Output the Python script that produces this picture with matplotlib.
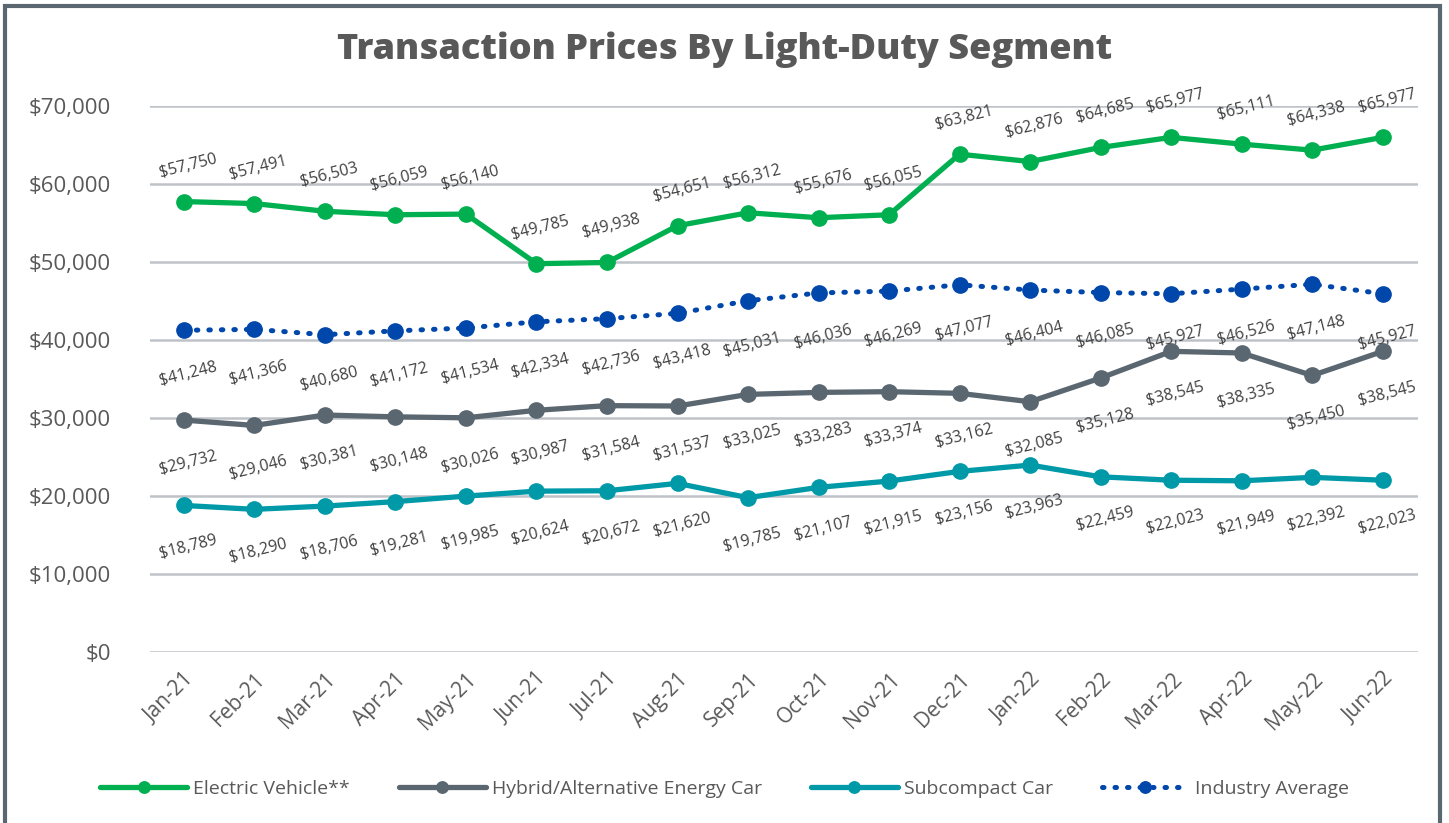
import matplotlib
matplotlib.use("Agg")
import matplotlib.pyplot as plt
from matplotlib.patches import Rectangle
import numpy as np

months = ["Jan-21", "Feb-21", "Mar-21", "Apr-21", "May-21", "Jun-21", "Jul-21", "Aug-21", "Sep-21",
          "Oct-21", "Nov-21", "Dec-21", "Jan-22", "Feb-22", "Mar-22", "Apr-22", "May-22", "Jun-22"]
ev = [57750, 57491, 56503, 56059, 56140, 49785, 49938, 54651, 56312,
      55676, 56055, 63821, 62876, 64685, 65977, 65111, 64338, 65977]
industry = [41248, 41366, 40680, 41172, 41534, 42334, 42736, 43418, 45031,
            46036, 46269, 47077, 46404, 46085, 45927, 46526, 47148, 45927]
hybrid = [29732, 29046, 30381, 30148, 30026, 30987, 31584, 31537, 33025,
          33283, 33374, 33162, 32085, 35128, 38545, 38335, 35450, 38545]
subcompact = [18789, 18290, 18706, 19281, 19985, 20624, 20672, 21620, 19785,
              21107, 21915, 23156, 23963, 22459, 22023, 21949, 22392, 22023]
yticks = [0, 10000, 20000, 30000, 40000, 50000, 60000, 70000]

W, H = 1449, 823
fig = plt.figure(figsize=(W / 100, H / 100), dpi=100)
plt.rcParams['font.family'] = ['Open Sans', 'DejaVu Sans']

ax = fig.add_axes([150 / W, 1 - 652 / H, (1418 - 150) / W, (652 - 106) / H])
x = np.arange(len(months))

txt = "#595959"
lbl = "#404040"
series = [
    ("Electric Vehicle**", ev, "#00B050", "-", 36, 1),
    ("Hybrid/Alternative Energy Car", hybrid, "#5B6770", "-", 43, -1),
    ("Subcompact Car", subcompact, "#0099A8", "-", 42, -1),
    ("Industry Average", industry, "#0047AB", ":", 44, -1),
]
for name, vals, col, ls, off, sgn in series:
    if ls == ":":
        ax.plot(x, vals, color=col, lw=3.6, ls=(0, (0.3, 2.2)), dash_capstyle='round',
                marker='o', ms=11, label=name, zorder=3)
    else:
        ax.plot(x, vals, color=col, lw=3.8, marker='o', ms=11, label=name,
                solid_capstyle='round', zorder=3)
    for xi, v in zip(x, vals):
        ax.annotate(f"${v:,}", (xi, v), xytext=(3, sgn * off * 0.72), textcoords='offset points',
                    ha='center', va='center', rotation=14, fontsize=11.5, color=lbl)

ax.set_xlim(-0.48, 17.5)
ax.set_ylim(0, 70000)
ax.set_yticks(yticks)
ax.set_yticklabels([f"${v:,}" for v in yticks], fontsize=16, color=txt)
ax.set_xticks(x)
ax.set_xticklabels(months, rotation=45, ha='right', rotation_mode='anchor', fontsize=15, color=txt)
ax.tick_params(axis='both', length=0)
ax.tick_params(axis='y', pad=28)
ax.tick_params(axis='x', pad=12)
ax.grid(axis='y', color="#BFC3C8", lw=1.8)
ax.set_axisbelow(True)
for s in ax.spines.values():
    s.set_visible(False)

fig.text(0.5, 1 - 50 / H, "Transaction Prices By Light-Duty Segment", ha='center', va='center',
         fontsize=26, fontweight='heavy', color=txt)

leg = fig.legend(loc='center', bbox_to_anchor=(0.5, 1 - 789 / H), ncol=4, frameon=False,
                 fontsize=14, handlelength=4.5, columnspacing=2.5, handletextpad=0.3,
                 labelcolor=txt, markerscale=0.75)

fig.patches.append(Rectangle((5 / W, -0.1), (1440 - 5) / W, 1.1 - 6 / H, transform=fig.transFigure,
                             fill=False, ec="#5B6770", lw=3, zorder=10))

fig.savefig("out.png", dpi=100)
